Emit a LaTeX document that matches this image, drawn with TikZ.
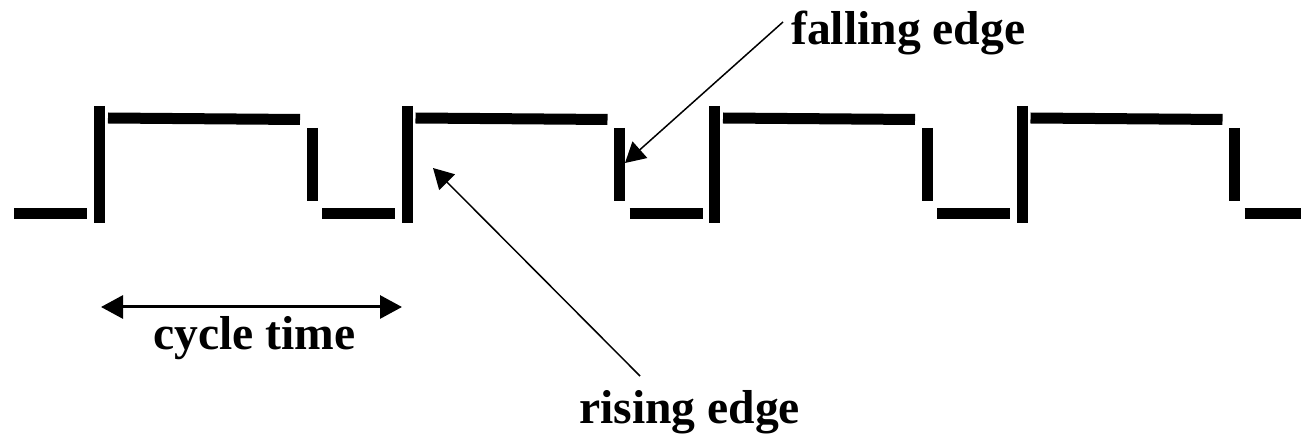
\documentclass[tikz,border=0pt]{standalone}
\usepackage{fontspec}
\setmainfont{Liberation Serif}
\usetikzlibrary{positioning, arrows.meta}
\tikzset{
  wave/.style={
      line width=11pt,
      line cap=butt
    },
  lbl/.style={
      font=\bfseries\fontsize{47.6}{52}\selectfont,
      inner sep=0pt,
      anchor=base west
    },
  ptr/.style={
      -{Triangle[length=20pt,width=22pt]},
      line width=1.5pt
    },
  span/.style={
      {Triangle[length=22pt,width=23pt]}-{Triangle[length=22pt,width=23pt]},
      line width=3pt
    }
}

\begin{document}
\begin{tikzpicture}[x=1pt, y=-1pt]
  \useasboundingbox (0,0) rectangle (1301,435);
  % clock waveform, period 307.5
  \draw[wave] (14,213.5) -- (87,213.5);
  \foreach \i in {0,...,3} {
    \pgfmathsetmacro{\xo}{\i*307.5}
    \pgfmathsetmacro{\xe}{min(395+\xo,1301)}
    \draw[wave] (99.5+\xo,106) -- (99.5+\xo,223);
    \draw[wave] (108+\xo,118) -- (300+\xo,119.5);
    \draw[wave] (312+\xo,128) -- (312+\xo,201);
    \draw[wave] (322+\xo,213.5) -- (\xe,213.5);
  }
  % labels
  \node[lbl] (fall) at (791,45) {falling edge};
  \node[lbl] (rise) at (579,423) {rising edge};
  \node[lbl] (cyc) at (153,350) {cycle time};
  % arrows
  \coordinate (falltail) at (783,22);
  \coordinate (falltip) at (625,163);
  \coordinate (risetail) at (640,376);
  \coordinate (risetip) at (433,168);
  \coordinate (cycA) at (101,307);
  \coordinate (cycB) at (402,307);
  \draw[ptr] (falltail) -- (falltip);
  \draw[ptr] (risetail) -- (risetip);
  \draw[span] (cycA) -- (cycB);
\end{tikzpicture}
\end{document}
